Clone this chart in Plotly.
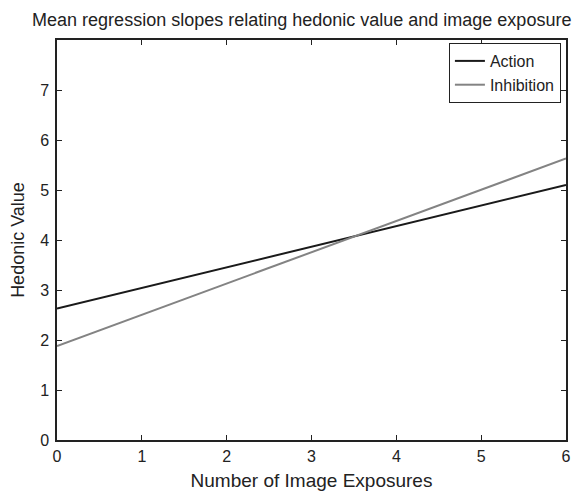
import plotly.graph_objects as go

x_vals = [0, 6]
action = [2.63, 5.10]
inhibition = [1.88, 5.63]
x_ticks = [0, 1, 2, 3, 4, 5, 6]
y_ticks = [0, 1, 2, 3, 4, 5, 6, 7]

fig = go.Figure()
fig.add_trace(go.Scatter(x=x_vals, y=action, mode="lines", name="Action",
                         line=dict(color="#1a1a1a", width=2)))
fig.add_trace(go.Scatter(x=x_vals, y=inhibition, mode="lines", name="Inhibition",
                         line=dict(color="#838383", width=2)))

axis_common = dict(showgrid=False, zeroline=False, showline=True, linecolor="#222",
                   linewidth=1.5, mirror="allticks", ticks="inside", ticklen=5,
                   tickcolor="#222", tickfont=dict(size=16, color="#222"))
fig.update_xaxes(range=[0, 6], tickvals=x_ticks, ticklabelstandoff=1,
                 title=dict(text="Number of Image Exposures", font=dict(size=19, color="#222"), standoff=10),
                 **axis_common)
fig.update_yaxes(range=[0, 8], tickvals=y_ticks, ticklabelstandoff=3,
                 title=dict(text="Hedonic Value", font=dict(size=18, color="#222"), standoff=12),
                 **axis_common)

fig.update_layout(
    width=576, height=484,
    margin=dict(l=49, r=18, t=32, b=52, autoexpand=False),
    paper_bgcolor="white", plot_bgcolor="white",
    font=dict(family="Liberation Sans, Arial, sans-serif", color="#222"),
    title=dict(text="Mean regression slopes relating hedonic value and image exposure",
               x=0.51, xanchor="center", y=0.975, yanchor="middle", font=dict(size=18, color="#222")),
    legend=dict(x=0.99, y=0.9925, xanchor="right", yanchor="top", bgcolor="white",
                bordercolor="#222", borderwidth=1, font=dict(size=16, color="#222"),
                itemwidth=30, tracegroupgap=0),
    showlegend=True,
)
fig.write_html("out.html")
